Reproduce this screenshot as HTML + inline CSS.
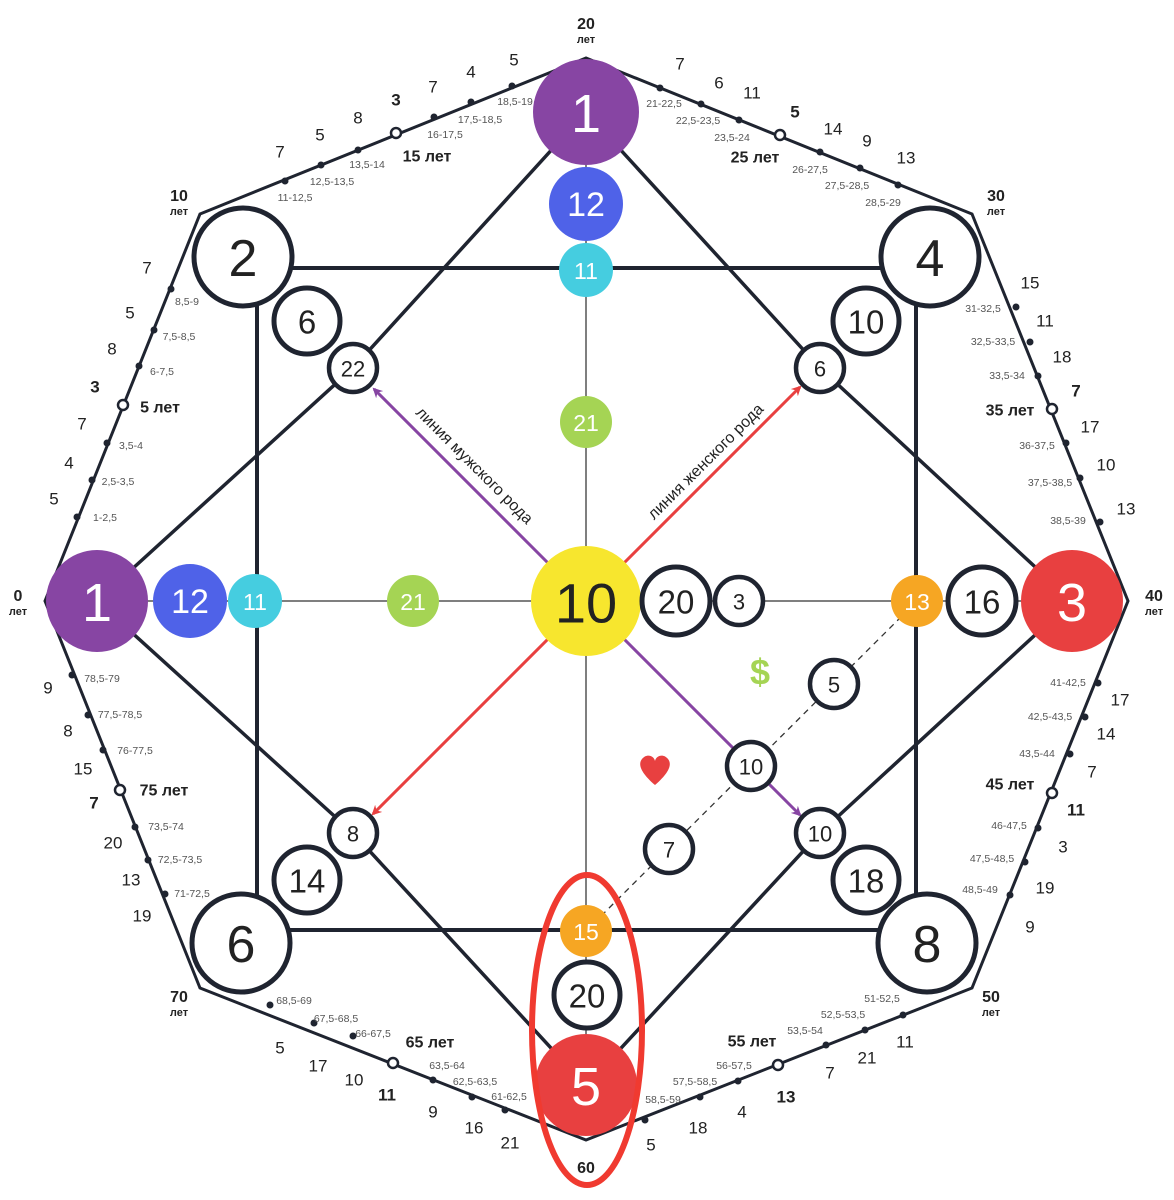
<!DOCTYPE html>
<html><head><meta charset="utf-8"><style>
html,body{margin:0;padding:0;background:#fff;}
svg{display:block;font-family:"Liberation Sans",sans-serif;}
.b{font-size:17px;fill:#222;text-anchor:middle;dominant-baseline:central;}
.bb{font-size:17px;font-weight:bold;fill:#222;text-anchor:middle;dominant-baseline:central;}
.s{font-size:10.5px;fill:#555;text-anchor:middle;dominant-baseline:central;}
.a{font-size:16px;font-weight:bold;fill:#222;text-anchor:middle;dominant-baseline:central;}
.ag{font-size:16px;font-weight:bold;fill:#222;text-anchor:middle;}
.ags{font-size:11px;font-weight:bold;fill:#222;text-anchor:middle;}
.n{text-anchor:middle;dominant-baseline:central;fill:#222;}
.w{text-anchor:middle;dominant-baseline:central;fill:#fff;}
</style></head><body>
<svg width="1174" height="1200" viewBox="0 0 1174 1200" xmlns="http://www.w3.org/2000/svg">
<defs>
<marker id="mp" markerWidth="10" markerHeight="10" refX="8" refY="5" orient="auto" markerUnits="userSpaceOnUse"><path d="M0,0 L10,5 L0,10 L3,5 Z" fill="#8745a3"/></marker>
<marker id="mr" markerWidth="10" markerHeight="10" refX="8" refY="5" orient="auto" markerUnits="userSpaceOnUse"><path d="M0,0 L10,5 L0,10 L3,5 Z" fill="#e84040"/></marker>
</defs>
<!-- octagon -->
<polygon points="586,58 200,214 45,601 200,988 586,1140 972,988 1128,601 972,214" fill="none" stroke="#1f2430" stroke-width="3"/>
<!-- cross thin -->
<line x1="586" y1="112" x2="586" y2="1086" stroke="#555" stroke-width="1.5"/>
<line x1="97" y1="601" x2="1072" y2="601" stroke="#555" stroke-width="1.5"/>
<!-- square -->
<rect x="257" y="268" width="659" height="662" fill="none" stroke="#1f2430" stroke-width="4"/>
<!-- diamond through inner nodes -->
<polyline points="586,112 353,368 97,601 353,833 586,1086 820,833 1072,601 820,368 586,112" fill="none" stroke="#1f2430" stroke-width="3.5"/>
<!-- arrows -->
<line x1="586" y1="601" x2="374" y2="389" stroke="#8745a3" stroke-width="3" marker-end="url(#mp)"/>
<line x1="586" y1="601" x2="800" y2="387" stroke="#e84040" stroke-width="3" marker-end="url(#mr)"/>
<line x1="586" y1="601" x2="373" y2="814" stroke="#e84040" stroke-width="3" marker-end="url(#mr)"/>
<line x1="586" y1="601" x2="800" y2="815" stroke="#8745a3" stroke-width="3" marker-end="url(#mp)"/>
<!-- dashed -->
<line x1="917" y1="601" x2="586" y2="931" stroke="#333" stroke-width="1.3" stroke-dasharray="6,5"/>
<!-- arrow labels -->
<text x="474" y="466" transform="rotate(45 474 466)" font-size="16" fill="#222" text-anchor="middle" dominant-baseline="central">линия мужского рода</text>
<text x="706" y="462" transform="rotate(-45 706 462)" font-size="16" fill="#222" text-anchor="middle" dominant-baseline="central">линия женского рода</text>

<!-- big colored -->
<circle cx="586" cy="112" r="53" fill="#8745a3"/><text x="586" y="114" class="w" font-size="54">1</text>
<circle cx="97" cy="601" r="51" fill="#8745a3"/><text x="97" y="603" class="w" font-size="54">1</text>
<circle cx="1072" cy="601" r="51" fill="#e84040"/><text x="1072" y="603" class="w" font-size="54">3</text>
<circle cx="586" cy="1085" r="51" fill="#e84040"/><text x="586" y="1087" class="w" font-size="54">5</text>
<circle cx="586" cy="601" r="55" fill="#f7e62e"/><text x="586" y="603" class="n" font-size="56">10</text>
<!-- corners -->
<g fill="#fff" stroke="#1f2430" stroke-width="5">
<circle cx="243" cy="257" r="49"/><circle cx="930" cy="257" r="49"/>
<circle cx="241" cy="943" r="49"/><circle cx="927" cy="943" r="49"/>
</g>
<text x="243" y="259" class="n" font-size="52">2</text>
<text x="930" y="259" class="n" font-size="52">4</text>
<text x="241" y="945" class="n" font-size="52">6</text>
<text x="927" y="945" class="n" font-size="52">8</text>
<!-- colored small -->
<circle cx="586" cy="204" r="37" fill="#4f62e8"/><text x="586" y="205" class="w" font-size="34">12</text>
<circle cx="190" cy="601" r="37" fill="#4f62e8"/><text x="190" y="602" class="w" font-size="34">12</text>
<circle cx="586" cy="270" r="27" fill="#45cde0"/><text x="586" y="271" class="w" font-size="23">11</text>
<circle cx="255" cy="601" r="27" fill="#45cde0"/><text x="255" y="602" class="w" font-size="23">11</text>
<circle cx="586" cy="422" r="26" fill="#a5d454"/><text x="586" y="423" class="w" font-size="23">21</text>
<circle cx="413" cy="601" r="26" fill="#a5d454"/><text x="413" y="602" class="w" font-size="23">21</text>
<circle cx="917" cy="601" r="26" fill="#f6a623"/><text x="917" y="602" class="w" font-size="23">13</text>
<circle cx="586" cy="931" r="26" fill="#f6a623"/><text x="586" y="932" class="w" font-size="23">15</text>
<!-- white medium -->
<g fill="#fff" stroke="#1f2430" stroke-width="5">
<circle cx="307" cy="321" r="33"/><circle cx="866" cy="321" r="33"/>
<circle cx="676" cy="601" r="34"/><circle cx="982" cy="601" r="34"/>
<circle cx="307" cy="880" r="33"/><circle cx="866" cy="880" r="33"/>
<circle cx="587" cy="995" r="33"/>
</g>
<g font-size="33">
<text x="307" y="322" class="n">6</text><text x="866" y="322" class="n">10</text>
<text x="676" y="602" class="n">20</text><text x="982" y="602" class="n">16</text>
<text x="307" y="881" class="n">14</text><text x="866" y="881" class="n">18</text>
<text x="587" y="996" class="n">20</text>
</g>
<g fill="#fff" stroke="#1f2430" stroke-width="4.5">
<circle cx="353" cy="368" r="24"/><circle cx="820" cy="368" r="24"/>
<circle cx="739" cy="601" r="24"/>
<circle cx="353" cy="833" r="24"/><circle cx="820" cy="833" r="24"/>
<circle cx="834" cy="684" r="24"/><circle cx="751" cy="766" r="24"/><circle cx="669" cy="849" r="24"/>
</g>
<g font-size="22">
<text x="353" y="369" class="n">22</text><text x="820" y="369" class="n">6</text>
<text x="739" y="602" class="n">3</text>
<text x="353" y="834" class="n">8</text><text x="820" y="834" class="n">10</text>
<text x="834" y="685" class="n">5</text><text x="751" y="767" class="n">10</text><text x="669" y="850" class="n">7</text>
</g>
<text x="760" y="672" font-size="36" font-weight="bold" fill="#a5d454" text-anchor="middle" dominant-baseline="central">$</text>
<path d="M655,785 C640,772 638,764 642,759 C647,753 654,756 655,761 C656,756 663,753 668,759 C672,764 670,772 655,785 Z" fill="#e84040"/>
<ellipse cx="587" cy="1030" rx="55" ry="155" fill="none" stroke="#f03a30" stroke-width="6"/>

<!-- edge dots -->
<g fill="#1f2430">
<circle cx="285" cy="181" r="3.5"/><circle cx="321" cy="165" r="3.5"/><circle cx="358" cy="150" r="3.5"/><circle cx="434" cy="117" r="3.5"/><circle cx="471" cy="102" r="3.5"/><circle cx="512" cy="86" r="3.5"/>
<circle cx="660" cy="88" r="3.5"/><circle cx="701" cy="104" r="3.5"/><circle cx="739" cy="120" r="3.5"/><circle cx="820" cy="152" r="3.5"/><circle cx="860" cy="168" r="3.5"/><circle cx="898" cy="185" r="3.5"/>
<circle cx="1016" cy="307" r="3.5"/><circle cx="1030" cy="342" r="3.5"/><circle cx="1038" cy="376" r="3.5"/><circle cx="1066" cy="443" r="3.5"/><circle cx="1080" cy="478" r="3.5"/><circle cx="1100" cy="522" r="3.5"/>
<circle cx="1098" cy="683" r="3.5"/><circle cx="1085" cy="717" r="3.5"/><circle cx="1070" cy="754" r="3.5"/><circle cx="1038" cy="828" r="3.5"/><circle cx="1025" cy="862" r="3.5"/><circle cx="1010" cy="895" r="3.5"/>
<circle cx="903" cy="1015" r="3.5"/><circle cx="865" cy="1030" r="3.5"/><circle cx="826" cy="1045" r="3.5"/><circle cx="738" cy="1081" r="3.5"/><circle cx="700" cy="1097" r="3.5"/><circle cx="645" cy="1120" r="3.5"/>
<circle cx="270" cy="1005" r="3.5"/><circle cx="314" cy="1023" r="3.5"/><circle cx="353" cy="1036" r="3.5"/><circle cx="433" cy="1080" r="3.5"/><circle cx="472" cy="1097" r="3.5"/><circle cx="505" cy="1110" r="3.5"/>
<circle cx="72" cy="675" r="3.5"/><circle cx="88" cy="715" r="3.5"/><circle cx="103" cy="750" r="3.5"/><circle cx="135" cy="827" r="3.5"/><circle cx="148" cy="860" r="3.5"/><circle cx="165" cy="894" r="3.5"/>
<circle cx="171" cy="289" r="3.5"/><circle cx="154" cy="330" r="3.5"/><circle cx="139" cy="366" r="3.5"/><circle cx="107" cy="443" r="3.5"/><circle cx="92" cy="480" r="3.5"/><circle cx="77" cy="517" r="3.5"/>
</g>
<g fill="#fff" stroke="#1f2430" stroke-width="2.5">
<circle cx="396" cy="133" r="5"/><circle cx="780" cy="135" r="5"/><circle cx="1052" cy="409" r="5"/><circle cx="1052" cy="793" r="5"/>
<circle cx="778" cy="1065" r="5"/><circle cx="393" cy="1063" r="5"/><circle cx="120" cy="790" r="5"/><circle cx="123" cy="405" r="5"/>
</g>

<!-- top-left edge -->
<text x="280" y="152" class="b">7</text><text x="320" y="135" class="b">5</text><text x="358" y="118" class="b">8</text><text x="396" y="100" class="bb">3</text><text x="433" y="87" class="b">7</text><text x="471" y="72" class="b">4</text><text x="514" y="60" class="b">5</text>
<text x="295" y="198" class="s">11-12,5</text><text x="332" y="182" class="s">12,5-13,5</text><text x="367" y="165" class="s">13,5-14</text><text x="445" y="135" class="s">16-17,5</text><text x="480" y="120" class="s">17,5-18,5</text><text x="515" y="102" class="s">18,5-19</text>
<text x="427" y="157" class="a">15 лет</text>
<!-- top-right -->
<text x="680" y="64" class="b">7</text><text x="719" y="83" class="b">6</text><text x="752" y="93" class="b">11</text><text x="795" y="112" class="bb">5</text><text x="833" y="129" class="b">14</text><text x="867" y="141" class="b">9</text><text x="906" y="158" class="b">13</text>
<text x="664" y="104" class="s">21-22,5</text><text x="698" y="121" class="s">22,5-23,5</text><text x="732" y="138" class="s">23,5-24</text><text x="810" y="170" class="s">26-27,5</text><text x="847" y="186" class="s">27,5-28,5</text><text x="883" y="203" class="s">28,5-29</text>
<text x="755" y="158" class="a">25 лет</text>
<!-- right-top -->
<text x="1030" y="283" class="b">15</text><text x="1045" y="321" class="b">11</text><text x="1062" y="357" class="b">18</text><text x="1076" y="391" class="bb">7</text><text x="1090" y="427" class="b">17</text><text x="1106" y="465" class="b">10</text><text x="1126" y="509" class="b">13</text>
<text x="983" y="309" class="s">31-32,5</text><text x="993" y="342" class="s">32,5-33,5</text><text x="1007" y="376" class="s">33,5-34</text><text x="1037" y="446" class="s">36-37,5</text><text x="1050" y="483" class="s">37,5-38,5</text><text x="1068" y="521" class="s">38,5-39</text>
<text x="1010" y="411" class="a">35 лет</text>
<!-- right-bottom -->
<text x="1120" y="700" class="b">17</text><text x="1106" y="734" class="b">14</text><text x="1092" y="772" class="b">7</text><text x="1076" y="810" class="bb">11</text><text x="1063" y="847" class="b">3</text><text x="1045" y="888" class="b">19</text><text x="1030" y="927" class="b">9</text>
<text x="1068" y="683" class="s">41-42,5</text><text x="1050" y="717" class="s">42,5-43,5</text><text x="1037" y="754" class="s">43,5-44</text><text x="1009" y="826" class="s">46-47,5</text><text x="992" y="859" class="s">47,5-48,5</text><text x="980" y="890" class="s">48,5-49</text>
<text x="1010" y="785" class="a">45 лет</text>
<!-- bottom-right -->
<text x="905" y="1042" class="b">11</text><text x="867" y="1058" class="b">21</text><text x="830" y="1073" class="b">7</text><text x="786" y="1097" class="bb">13</text><text x="742" y="1112" class="b">4</text><text x="698" y="1128" class="b">18</text><text x="651" y="1145" class="b">5</text>
<text x="882" y="999" class="s">51-52,5</text><text x="843" y="1015" class="s">52,5-53,5</text><text x="805" y="1031" class="s">53,5-54</text><text x="734" y="1066" class="s">56-57,5</text><text x="695" y="1082" class="s">57,5-58,5</text><text x="663" y="1100" class="s">58,5-59</text>
<text x="752" y="1042" class="a">55 лет</text>
<!-- bottom-left -->
<text x="280" y="1048" class="b">5</text><text x="318" y="1066" class="b">17</text><text x="354" y="1080" class="b">10</text><text x="387" y="1095" class="bb">11</text><text x="433" y="1112" class="b">9</text><text x="474" y="1128" class="b">16</text><text x="510" y="1143" class="b">21</text>
<text x="294" y="1001" class="s">68,5-69</text><text x="336" y="1019" class="s">67,5-68,5</text><text x="373" y="1034" class="s">66-67,5</text><text x="447" y="1066" class="s">63,5-64</text><text x="475" y="1082" class="s">62,5-63,5</text><text x="509" y="1097" class="s">61-62,5</text>
<text x="430" y="1043" class="a">65 лет</text>
<!-- left-bottom -->
<text x="48" y="688" class="b">9</text><text x="68" y="731" class="b">8</text><text x="83" y="769" class="b">15</text><text x="94" y="803" class="bb">7</text><text x="113" y="843" class="b">20</text><text x="131" y="880" class="b">13</text><text x="142" y="916" class="b">19</text>
<text x="102" y="679" class="s">78,5-79</text><text x="120" y="715" class="s">77,5-78,5</text><text x="135" y="751" class="s">76-77,5</text><text x="166" y="827" class="s">73,5-74</text><text x="180" y="860" class="s">72,5-73,5</text><text x="192" y="894" class="s">71-72,5</text>
<text x="164" y="791" class="a">75 лет</text>
<!-- left-top -->
<text x="147" y="268" class="b">7</text><text x="130" y="313" class="b">5</text><text x="112" y="349" class="b">8</text><text x="95" y="387" class="bb">3</text><text x="82" y="424" class="b">7</text><text x="69" y="463" class="b">4</text><text x="54" y="499" class="b">5</text>
<text x="187" y="302" class="s">8,5-9</text><text x="179" y="337" class="s">7,5-8,5</text><text x="162" y="372" class="s">6-7,5</text><text x="131" y="446" class="s">3,5-4</text><text x="118" y="482" class="s">2,5-3,5</text><text x="105" y="518" class="s">1-2,5</text>
<text x="160" y="408" class="a">5 лет</text>

<!-- ages -->
<text x="586" y="29" class="ag">20</text><text x="586" y="43" class="ags">лет</text>
<text x="996" y="201" class="ag">30</text><text x="996" y="215" class="ags">лет</text>
<text x="1154" y="601" class="ag">40</text><text x="1154" y="615" class="ags">лет</text>
<text x="991" y="1002" class="ag">50</text><text x="991" y="1016" class="ags">лет</text>
<text x="586" y="1173" class="ag">60</text>
<text x="179" y="1002" class="ag">70</text><text x="179" y="1016" class="ags">лет</text>
<text x="18" y="601" class="ag">0</text><text x="18" y="615" class="ags">лет</text>
<text x="179" y="201" class="ag">10</text><text x="179" y="215" class="ags">лет</text>
</svg>
</body></html>
